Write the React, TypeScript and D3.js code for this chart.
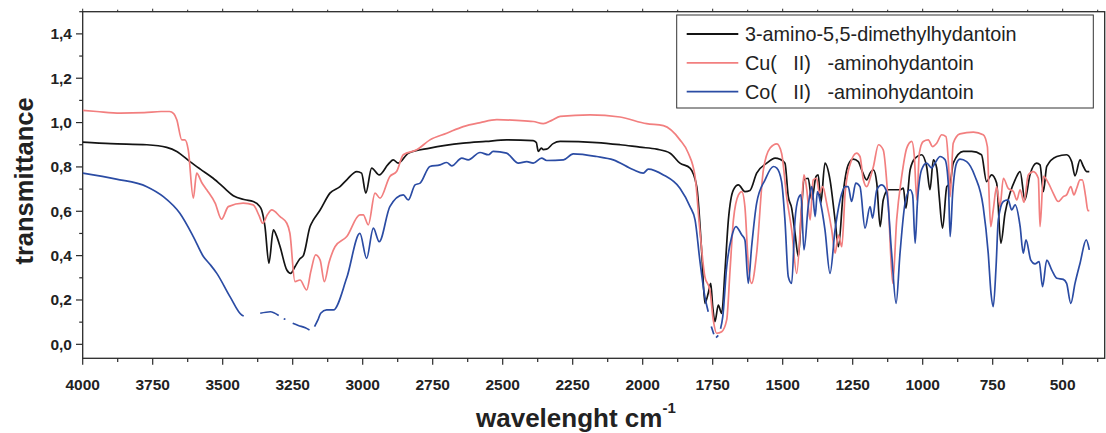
import React from "react";
import * as d3 from "d3";

type Pt = [number, number | null];

const xTickValues = [4000, 3750, 3500, 3250, 3000, 2750, 2500, 2250, 2000, 1750, 1500, 1250, 1000, 750, 500];
const yTickValues = [0, 0.2, 0.4, 0.6, 0.8, 1.0, 1.2, 1.4];
const yTickLabels = ["0,0", "0,2", "0,4", "0,6", "0,8", "1,0", "1,2", "1,4"];

const seriesNames = ["3-amino-5,5-dimethylhydantoin", "Cu(   II)   -aminohydantoin", "Co(   II)   -aminohydantoin"];
const seriesColors = ["#141414", "#f27f7f", "#2b4ca4"];

const amino: Pt[] = [
  [4000, 0.912], [3900, 0.905], [3771, 0.9], [3700, 0.888], [3664, 0.87], [3617, 0.824], [3580, 0.79],
  [3534, 0.749], [3490, 0.7], [3462, 0.67], [3420, 0.652], [3391, 0.644], [3370, 0.625], [3361, 0.606],
  [3349, 0.531], [3335, 0.366], [3319, 0.516], [3308, 0.49], [3295, 0.44], [3271, 0.335], [3257, 0.32],
  [3242, 0.35], [3225, 0.385], [3212, 0.4], [3188, 0.531], [3176, 0.561], [3152, 0.606], [3117, 0.682],
  [3081, 0.711], [3057, 0.742], [3021, 0.779], [3004, 0.772], [2989, 0.682], [2968, 0.795], [2941, 0.764],
  [2910, 0.81], [2891, 0.832], [2873, 0.817], [2837, 0.862], [2760, 0.885], [2641, 0.907], [2560, 0.915],
  [2486, 0.922], [2391, 0.919], [2380, 0.91], [2373, 0.87], [2362, 0.885], [2355, 0.878], [2343, 0.88],
  [2320, 0.905], [2295, 0.915], [2164, 0.91], [2080, 0.9], [2010, 0.889], [1950, 0.88], [1902, 0.862],
  [1867, 0.817], [1831, 0.795], [1807, 0.711], [1789, 0.411], [1778, 0.185], [1766, 0.23], [1757, 0.275],
  [1750, 0.17], [1742, 0.102], [1730, 0.177], [1718, 0.14], [1706, 0.335], [1694, 0.561], [1676, 0.697],
  [1658, 0.719], [1635, 0.689], [1617, 0.694], [1593, 0.772], [1557, 0.817], [1527, 0.84], [1510, 0.835],
  [1492, 0.817], [1480, 0.666], [1468, 0.614], [1456, 0.501], [1444, 0.396], [1432, 0.621], [1424, 0.742],
  [1409, 0.749], [1396, 0.651], [1381, 0.757], [1373, 0.764], [1364, 0.637], [1349, 0.817], [1331, 0.742],
  [1313, 0.561], [1301, 0.44], [1284, 0.682], [1266, 0.809], [1248, 0.835], [1230, 0.824], [1218, 0.787],
  [1200, 0.742], [1188, 0.772], [1176, 0.787], [1164, 0.727], [1152, 0.531], [1141, 0.651], [1123, 0.697],
  [1081, 0.697], [1069, 0.704], [1060, 0.614], [1045, 0.787], [1027, 0.84], [1004, 0.855], [986, 0.802],
  [974, 0.697], [962, 0.832], [950, 0.795], [941, 0.666], [929, 0.524], [914, 0.711], [902, 0.727],
  [891, 0.817], [855, 0.87], [825, 0.87], [790, 0.855], [772, 0.734], [754, 0.764], [736, 0.727],
  [721, 0.456], [706, 0.591], [688, 0.682], [670, 0.742], [652, 0.779], [635, 0.651], [617, 0.764],
  [593, 0.817], [581, 0.809], [569, 0.689], [557, 0.802], [521, 0.847], [486, 0.855], [468, 0.824],
  [456, 0.76], [438, 0.832], [426, 0.802], [414, 0.779], [405, 0.779],
];

const copper: Pt[] = [
  [4000, 1.055], [3950, 1.05], [3866, 1.043], [3780, 1.045], [3720, 1.05], [3690, 1.05], [3675, 1.04],
  [3664, 1.013], [3646, 0.922], [3635, 0.922], [3623, 0.877], [3605, 0.659], [3593, 0.772], [3575, 0.73],
  [3557, 0.697], [3527, 0.637], [3504, 0.564], [3480, 0.621], [3427, 0.637], [3391, 0.629], [3370, 0.58],
  [3357, 0.546], [3340, 0.585], [3325, 0.606], [3295, 0.576], [3271, 0.546], [3260, 0.501], [3242, 0.283],
  [3224, 0.29], [3200, 0.245], [3185, 0.33], [3168, 0.403], [3152, 0.38], [3137, 0.283], [3120, 0.37],
  [3099, 0.44], [3057, 0.486], [3010, 0.584], [2998, 0.584], [2980, 0.539], [2956, 0.682], [2938, 0.659],
  [2903, 0.757], [2879, 0.779], [2855, 0.855], [2807, 0.877], [2760, 0.922], [2700, 0.952], [2641, 0.982],
  [2580, 1.0], [2521, 1.013], [2450, 1.01], [2391, 1.005], [2355, 0.995], [2325, 1.01], [2295, 1.028],
  [2188, 1.035], [2081, 1.025], [1986, 0.995], [1926, 0.986], [1867, 0.922], [1837, 0.862], [1813, 0.757],
  [1796, 0.516], [1778, 0.305], [1760, 0.245], [1748, 0.11], [1736, 0.05], [1718, 0.057], [1700, 0.11],
  [1688, 0.335], [1676, 0.561], [1658, 0.674], [1646, 0.689], [1635, 0.621], [1623, 0.366], [1611, 0.275],
  [1593, 0.411], [1569, 0.787], [1545, 0.885], [1521, 0.904], [1504, 0.862], [1486, 0.666], [1468, 0.516],
  [1450, 0.32], [1432, 0.637], [1424, 0.764], [1414, 0.697], [1402, 0.561], [1391, 0.742], [1379, 0.749],
  [1369, 0.682], [1357, 0.711], [1343, 0.637], [1325, 0.516], [1313, 0.411], [1301, 0.493], [1289, 0.44],
  [1277, 0.682], [1260, 0.809], [1236, 0.862], [1224, 0.847], [1212, 0.742], [1200, 0.711], [1186, 0.757],
  [1176, 0.802], [1158, 0.9], [1141, 0.877], [1123, 0.637], [1107, 0.275], [1093, 0.561], [1075, 0.757],
  [1057, 0.885], [1039, 0.915], [1030, 0.85], [1021, 0.651], [1012, 0.862], [998, 0.915], [980, 0.922],
  [965, 0.892], [950, 0.907], [932, 0.945], [917, 0.937], [908, 0.817], [902, 0.666], [891, 0.907],
  [867, 0.949], [819, 0.957], [784, 0.945], [769, 0.892], [764, 0.711], [757, 0.531], [748, 0.606],
  [736, 0.711], [724, 0.621], [712, 0.749], [695, 0.704], [676, 0.689], [664, 0.651], [652, 0.697],
  [638, 0.64], [623, 0.764], [605, 0.779], [587, 0.749], [581, 0.531], [569, 0.757], [551, 0.727],
  [534, 0.682], [516, 0.644], [498, 0.666], [486, 0.674], [471, 0.711], [460, 0.674], [450, 0.704],
  [438, 0.742], [430, 0.742], [418, 0.666], [410, 0.603], [405, 0.603],
];

const cobalt: Pt[] = [
  [4000, 0.772], [3880, 0.745], [3771, 0.711], [3712, 0.666], [3653, 0.591], [3605, 0.486], [3569, 0.396],
  [3545, 0.36], [3521, 0.32], [3474, 0.215], [3432, 0.132], [3425, 0.128], [3420, null],
  [3366, 0.14], [3330, 0.147], [3300, 0.13], [3296, null],
  [3282, 0.115], [3276, 0.113], [3270, null],
  [3250, 0.095], [3230, 0.085], [3205, 0.075], [3190, 0.065], [3180, null],
  [3172, 0.08], [3160, 0.11], [3150, 0.14], [3129, 0.155], [3105, 0.155], [3057, 0.3], [3010, 0.5],
  [2986, 0.388], [2962, 0.524], [2941, 0.463], [2903, 0.621], [2855, 0.674], [2837, 0.651], [2813, 0.719],
  [2795, 0.727], [2760, 0.802], [2724, 0.809], [2700, 0.82], [2682, 0.805], [2646, 0.84], [2623, 0.832],
  [2581, 0.865], [2551, 0.855], [2534, 0.87], [2486, 0.862], [2444, 0.817], [2414, 0.824], [2391, 0.817],
  [2361, 0.84], [2343, 0.829], [2283, 0.832], [2248, 0.859], [2164, 0.847], [2105, 0.832], [2033, 0.787],
  [1998, 0.772], [1980, 0.79], [1926, 0.764], [1867, 0.704], [1831, 0.621], [1813, 0.561], [1796, 0.38],
  [1778, 0.215], [1766, 0.147], [1760, null],
  [1755, 0.08], [1746, 0.045], [1742, null],
  [1738, 0.03], [1730, 0.04], [1727, null],
  [1722, 0.07], [1714, 0.125], [1700, 0.35], [1682, 0.486], [1667, 0.531], [1646, 0.493], [1635, 0.471],
  [1623, 0.275], [1611, 0.44], [1593, 0.637], [1563, 0.742], [1533, 0.802], [1521, 0.795], [1504, 0.734],
  [1492, 0.561], [1480, 0.305], [1468, 0.275], [1456, 0.561], [1444, 0.659], [1435, 0.674], [1424, 0.426],
  [1409, 0.621], [1396, 0.711], [1384, 0.576], [1376, 0.689], [1367, 0.651], [1349, 0.516], [1331, 0.32],
  [1313, 0.516], [1295, 0.651], [1277, 0.711], [1266, 0.711], [1254, 0.644], [1239, 0.727], [1224, 0.711],
  [1206, 0.524], [1188, 0.621], [1179, 0.569], [1164, 0.697], [1146, 0.719], [1129, 0.689], [1111, 0.411],
  [1095, 0.185], [1081, 0.411], [1063, 0.637], [1045, 0.697], [1036, 0.674], [1027, 0.456], [1019, 0.637],
  [1004, 0.787], [986, 0.817], [968, 0.795], [956, 0.817], [938, 0.847], [920, 0.832], [908, 0.711],
  [902, 0.486], [893, 0.682], [879, 0.817], [867, 0.835], [843, 0.824], [813, 0.757], [784, 0.621],
  [766, 0.411], [756, 0.23], [748, 0.17], [738, 0.35], [730, 0.561], [712, 0.644], [695, 0.651],
  [682, 0.606], [670, 0.629], [652, 0.531], [641, 0.411], [631, 0.471], [614, 0.38], [599, 0.363],
  [584, 0.373], [572, 0.26], [557, 0.38], [539, 0.335], [521, 0.298], [498, 0.293], [486, 0.275],
  [471, 0.185], [456, 0.275], [438, 0.366], [416, 0.471], [405, 0.426],
];

const seriesData = [amino, copper, cobalt];

const W = 1106;
const H = 433;
const left = 82.7;
const right = 1104.7;
const top = 11.7;
const bottom = 358.3;

export default function App() {
  const x = d3.scaleLinear().domain([4000, 350]).range([left, right]);
  const y = d3.scaleLinear().domain([-0.063, 1.5]).range([bottom, top]);
  const line = d3
    .line<Pt>()
    .defined((d) => d[1] !== null)
    .x((d) => x(d[0]))
    .y((d) => y(d[1] as number))
    .curve(d3.curveMonotoneX);

  const xMinor = d3.range(4000, 349, -125);
  const yMinor = d3.range(0, 1.51, 0.1);
  const font = "'Liberation Sans', Arial, Helvetica, sans-serif";
  const axisColor = "#2a2a2a";

  return (
    <svg width={W} height={H} style={{ position: "absolute", left: 0, top: 0, background: "#fff" }} fontFamily={font}>
      <rect x={0} y={0} width={W} height={H} fill="#fff" />
      <defs>
        <clipPath id="plotClip">
          <rect x={left} y={top} width={right - left} height={bottom - top} />
        </clipPath>
      </defs>
      <rect x={left} y={top} width={right - left} height={bottom - top} fill="none" stroke={axisColor} strokeWidth={1.3} />
      {xMinor.map((v) => {
        const major = xTickValues.includes(v);
        return (
          <g key={"xt" + v}>
            <line x1={x(v)} x2={x(v)} y1={bottom} y2={bottom + (major ? 6.5 : 3.8)} stroke={axisColor} strokeWidth={1.2} />
            <line x1={x(v)} x2={x(v)} y1={top} y2={top - (major ? 3 : 2)} stroke={axisColor} strokeWidth={1} />
          </g>
        );
      })}
      {xTickValues.map((v) => (
        <text key={"xl" + v} x={x(v)} y={389.5} textAnchor="middle" fontSize={15.5} fontWeight="bold" fill="#222">
          {v}
        </text>
      ))}
      {yMinor.map((v, i) => {
        const major = i % 2 === 0;
        return (
          <line key={"yt" + i} x1={left} x2={left - (major ? 6.7 : 3.5)} y1={y(v)} y2={y(v)} stroke={axisColor} strokeWidth={1.2} />
        );
      })}
      {yTickValues.map((v, i) => (
        <text key={"yl" + v} x={72} y={y(v) + 5.5} textAnchor="end" fontSize={15.5} fontWeight="bold" fill="#222">
          {yTickLabels[i]}
        </text>
      ))}
      <text transform={`translate(33, 181) rotate(-90)`} textAnchor="middle" fontSize={25.5} fontWeight="bold" fill="#222">
        transmittance
      </text>
      <text x={476} y={427} fontSize={26} fontWeight="bold" fill="#222">
        wavelenght cm
        <tspan dy={-14} fontSize={15}>-1</tspan>
      </text>
      <g clipPath="url(#plotClip)">
        {seriesData.map((d, i) => (
          <path key={"s" + i} d={line(d) || ""} fill="none" stroke={seriesColors[i]} strokeWidth={1.7} strokeLinejoin="round" />
        ))}
      </g>
      <rect x={676.7} y={15} width={416.6} height={93} fill="#fff" stroke="#333" strokeWidth={1} />
      {seriesNames.map((name, i) => {
        const cy = 34 + i * 28.8;
        return (
          <g key={"lg" + i}>
            <line x1={686.7} x2={738.3} y1={cy} y2={cy} stroke={seriesColors[i]} strokeWidth={1.8} />
            <text x={745} y={cy + 7} fontSize={19.8} fill="#222" style={{ whiteSpace: "pre" }} xmlSpace="preserve">
              {name}
            </text>
          </g>
        );
      })}
    </svg>
  );
}
